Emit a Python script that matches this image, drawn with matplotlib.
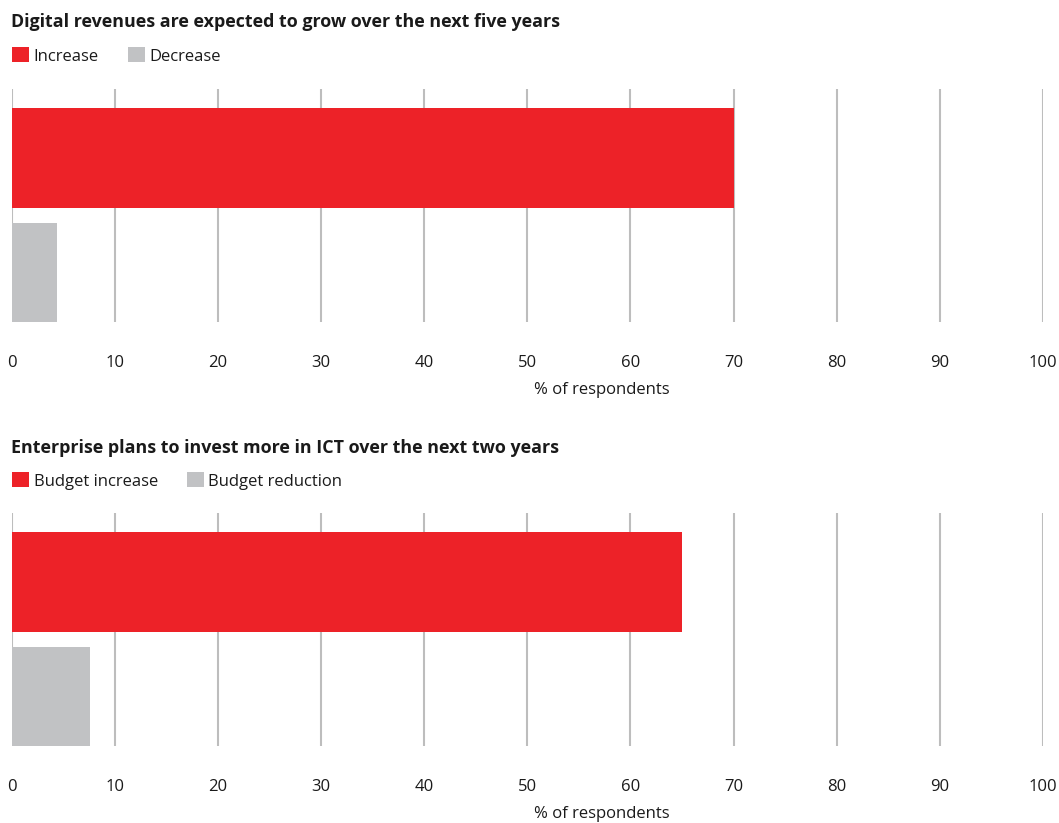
import matplotlib.pyplot as plt
from matplotlib.patches import Patch

plt.rcParams['font.family'] = ['Open Sans', 'DejaVu Sans']

titles = ['Digital revenues are expected to grow over the next five years',
          'Enterprise plans to invest more in ICT over the next two years']
labels = [['Increase', 'Decrease'], ['Budget increase', 'Budget reduction']]
values = [[70.0, 4.4], [65.0, 7.6]]
ticks = list(range(0, 101, 10))
xlabel = '% of respondents'

red = '#ED2228'
grey = '#C1C2C4'
gridc = '#BDBDBD'

W, H = 1059, 823
fig = plt.figure(figsize=(W / 100, H / 100), dpi=100)

# panel tops in pixels (top origin)
tops = [89, 513]
for i, top in enumerate(tops):
    ax = fig.add_axes([11.7 / W, 1 - (top + 233) / H, 1031.3 / W, 233 / H])
    ax.barh([1, 0], values[i], height=0.873, color=[red, grey], zorder=2)
    ax.set_xlim(0, 100)
    ax.set_ylim(-0.432, 1.603)
    ax.set_xticks(ticks)
    ax.set_yticks([])
    for t in ticks:
        ax.axvline(t, color=gridc, lw=1.5, zorder=1)
    for s in ax.spines.values():
        s.set_visible(False)
    ax.tick_params(axis='x', length=0, pad=24, labelsize=12, colors='#1a1a1a')
    ax.text(0.572, -0.29, xlabel, transform=ax.transAxes, ha='center', va='center',
            fontsize=12, color='#1a1a1a')

    title_y = [22, 448][i]
    fig.text(11 / W, 1 - title_y / H, titles[i], fontsize=12.9, fontweight='bold',
             ha='left', va='center', color='#1a1a1a')
    leg_y = [56, 481][i]
    handles = [Patch(facecolor=red, edgecolor='none', label=labels[i][0]),
               Patch(facecolor=grey, edgecolor='none', label=labels[i][1])]
    fig.legend(handles=handles, loc='center left', bbox_to_anchor=(4 / W, 1 - leg_y / H),
               ncol=2, frameon=False, fontsize=12, handlelength=1.0, handleheight=1.0,
               handletextpad=0.28, columnspacing=1.75, borderpad=0, labelcolor='#1a1a1a')

fig.savefig('out.png', dpi=100)
